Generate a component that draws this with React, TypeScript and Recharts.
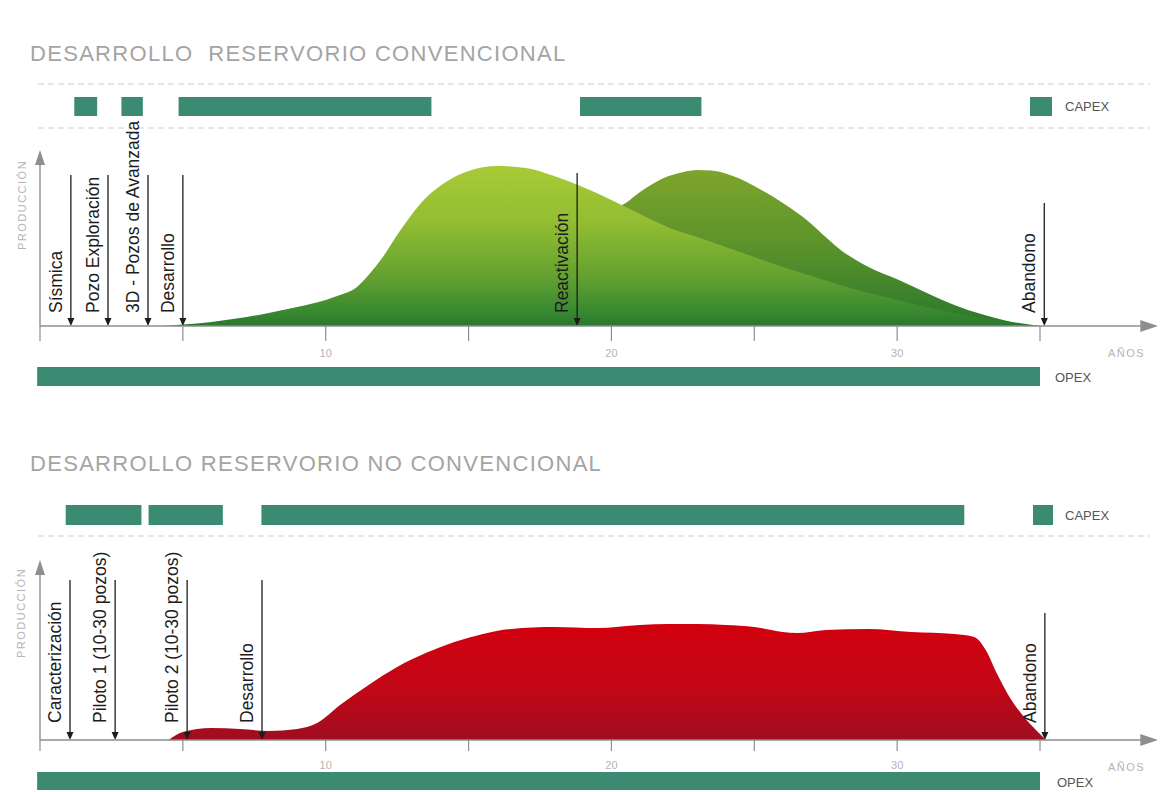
import { ComposedChart, Area, Line, XAxis, YAxis, ReferenceLine, ReferenceArea } from "recharts";

// years on the x axis, production as an index (0-100) on the y axis
const X_MIN = -1.4;
const X_MAX = 39;
const YEAR_TICKS = [0, 5, 10, 15, 20, 25, 30, 35];
const YEAR_LABELS = [10, 20, 30];

// --- reservorio convencional ---
const convCapex: [number, number][] = [
  [1.2, 2.0],
  [2.85, 3.6],
  [4.85, 13.7],
  [18.9, 23.15],
];
const convOpex: [number, number][] = [[-0.1, 35]];

const convPrimary = [
  { year: 4.3, v: 0 }, { year: 5, v: 0.8 }, { year: 6, v: 2.3 }, { year: 7, v: 4.5 },
  { year: 8, v: 7.4 }, { year: 9, v: 10.8 }, { year: 10, v: 14.8 }, { year: 10.5, v: 17.6 },
  { year: 11, v: 21 }, { year: 11.5, v: 29 }, { year: 12, v: 39.2 }, { year: 12.5, v: 51.7 },
  { year: 13, v: 63.1 }, { year: 13.5, v: 72.7 }, { year: 14, v: 79.5 }, { year: 14.5, v: 84.7 },
  { year: 15, v: 88.1 }, { year: 16, v: 90.9 }, { year: 17, v: 89.8 }, { year: 18, v: 85.2 },
  { year: 19, v: 79 }, { year: 20, v: 71.6 }, { year: 21, v: 63.6 }, { year: 22, v: 56 },
  { year: 23, v: 50.6 }, { year: 24, v: 44.9 }, { year: 25, v: 39.2 }, { year: 26, v: 33.5 },
  { year: 27, v: 28.4 }, { year: 28, v: 23.3 }, { year: 29, v: 18.8 }, { year: 30, v: 14.8 },
  { year: 31, v: 10.8 }, { year: 32, v: 7.4 }, { year: 33, v: 4.5 }, { year: 34, v: 2.3 },
  { year: 35, v: 0 },
];

const convReactivation = [
  { year: 20, v: 65.9 }, { year: 20.5, v: 69.9 }, { year: 21, v: 76.1 }, { year: 21.5, v: 81.3 },
  { year: 22, v: 85.2 }, { year: 22.5, v: 87.4 }, { year: 23, v: 88.6 }, { year: 23.5, v: 88.3 },
  { year: 24, v: 86.6 }, { year: 24.5, v: 83.6 }, { year: 25, v: 79.5 }, { year: 26, v: 69.9 },
  { year: 27, v: 58 }, { year: 27.5, v: 50.5 }, { year: 28, v: 43.5 }, { year: 28.5, v: 38 },
  { year: 29, v: 33.5 }, { year: 30, v: 26.5 }, { year: 31, v: 19 }, { year: 32, v: 12 },
  { year: 33, v: 6.5 }, { year: 34, v: 2.3 }, { year: 34.6, v: 0.5 }, { year: 35, v: 0 },
];

const convEvents = [
  { label: "Sísmica", year: 1.08, top: 85.8 },
  { label: "Pozo Exploración", year: 2.38, top: 85.8 },
  { label: "3D - Pozos de Avanzada", year: 3.78, top: 85.8 },
  { label: "Desarrollo", year: 5.0, top: 85.8 },
  { label: "Reactivación", year: 18.8, top: 86.9 },
  { label: "Abandono", year: 35.15, top: 69.9 },
];

// --- reservorio no convencional ---
const noConvCapex: [number, number][] = [
  [0.9, 3.55],
  [3.8, 6.4],
  [7.75, 32.35],
];
const noConvOpex: [number, number][] = [[-0.1, 35]];

const noConvProduction = [
  { year: 4.5, v: 0 }, { year: 5, v: 4.4 }, { year: 6, v: 6.7 }, { year: 7, v: 6.1 },
  { year: 8, v: 5 }, { year: 9, v: 6.1 }, { year: 9.7, v: 9.4 }, { year: 10.5, v: 19.4 },
  { year: 11.5, v: 30.6 }, { year: 12.5, v: 40.6 }, { year: 13.5, v: 48.3 }, { year: 14.5, v: 54.4 },
  { year: 15.5, v: 58.9 }, { year: 16.5, v: 61.7 }, { year: 18, v: 62.8 }, { year: 19.5, v: 62.2 },
  { year: 21, v: 63.9 }, { year: 22, v: 64.4 }, { year: 23, v: 64.4 }, { year: 24, v: 63.9 },
  { year: 25, v: 62.8 }, { year: 26, v: 60 }, { year: 26.5, v: 59.4 }, { year: 27.5, v: 61.1 },
  { year: 29, v: 61.7 }, { year: 30.5, v: 60 }, { year: 32, v: 58.9 }, { year: 32.7, v: 57.2 },
  { year: 33.1, v: 50 }, { year: 33.5, v: 36.7 }, { year: 34, v: 22.2 }, { year: 34.5, v: 11.7 },
  { year: 35, v: 3.3 }, { year: 35.2, v: 0 },
];

const noConvEvents = [
  { label: "Caracterización", year: 1.05, top: 88.9 },
  { label: "Piloto 1 (10-30 pozos)", year: 2.63, top: 88.9 },
  { label: "Piloto 2 (10-30 pozos)", year: 5.15, top: 88.9 },
  { label: "Desarrollo", year: 7.77, top: 88.9 },
  { label: "Abandono", year: 35.17, top: 70.6 },
];

const FONT = "'Liberation Sans', Arial, sans-serif";
const TEAL = "#3b8a72";
const AXIS = "#8e8e8e";
const INK = "#1c1c1c";
const W = 1160;
const LEFT = 40; // year 0
const RIGHT_PAD = W - LEFT - (X_MAX * 1000) / 35;

function BarRow({ segments, top, height }: { segments: [number, number][]; top: number; height: number }) {
  // segment ends as (invisible) points so the chart has a series and its scales
  const data = segments.flatMap(([start, end]) => [
    { x: start, y: 0.5 },
    { x: end, y: 0.5 },
  ]);
  return (
    <div style={{ position: "absolute", left: 0, top, width: W, height }}>
      <ComposedChart width={W} height={height} data={data} margin={{ top: 0, right: RIGHT_PAD, left: 0, bottom: 0 }}>
        <XAxis type="number" dataKey="x" domain={[X_MIN, X_MAX]} allowDataOverflow hide />
        <YAxis type="number" domain={[0, 1]} hide />
        <Line dataKey="y" stroke="none" dot={false} activeDot={false} isAnimationActive={false} />
        {segments.map(([s, e], i) => (
          <ReferenceArea key={i} x1={s} x2={e} y1={0} y2={1} fill={TEAL} fillOpacity={1} stroke="none" />
        ))}
      </ComposedChart>
    </div>
  );
}

function EventArrow(p: any) {
  const { x1, y1, y2, label, textGap } = p;
  const x = x1;
  const t = Math.min(y1, y2);
  const b = Math.max(y1, y2);
  const tx = x - 9;
  const ty = b - textGap;
  return (
    <g>
      <line x1={x} y1={t} x2={x} y2={b - 6} stroke={INK} strokeWidth={1.3} />
      <polygon points={`${x - 3.5},${b - 8} ${x + 3.5},${b - 8} ${x},${b}`} fill={INK} />
      <text x={tx} y={ty} transform={`rotate(-90 ${tx} ${ty})`} fontSize={17.5} fontFamily={FONT} fill={INK}>
        {label}
      </text>
    </g>
  );
}

function YArrow(p: any) {
  const { x1, y1, y2 } = p;
  const t = Math.min(y1, y2);
  const b = Math.max(y1, y2);
  return (
    <g>
      <line x1={x1} y1={b} x2={x1} y2={t + 10} stroke={AXIS} strokeWidth={1.4} />
      <polygon points={`${x1 - 5},${t + 15} ${x1 + 5},${t + 15} ${x1},${t}`} fill={AXIS} />
    </g>
  );
}

type Series = { data: { year: number; v: number }[]; fill: string };

function ProductionChart({
  id,
  top,
  plotHeight,
  series,
  events,
  tickSize,
  tickMargin,
  textGap,
  gradients,
}: {
  id: string;
  top: number;
  plotHeight: number;
  series: Series[];
  events: { label: string; year: number; top: number }[];
  tickSize: number;
  tickMargin: number;
  textGap: number;
  gradients: React.ReactNode;
}) {
  const marginTop = 30;
  const axisH = 40;
  const h = marginTop + plotHeight + axisH;
  return (
    <div style={{ position: "absolute", left: 0, top: top - marginTop, width: W, height: h }}>
      <ComposedChart width={W} height={h} margin={{ top: marginTop, right: RIGHT_PAD, left: LEFT, bottom: 0 }}>
        <defs>
          {gradients}
          <marker
            id={`${id}-xarrow`}
            markerUnits="userSpaceOnUse"
            markerWidth={18}
            markerHeight={12}
            viewBox="0 0 18 12"
            refX={14}
            refY={6}
            orient="auto"
          >
            <path d="M0,0 L18,6 L0,12 z" fill={AXIS} />
          </marker>
        </defs>
        <XAxis
          type="number"
          dataKey="year"
          domain={[0, X_MAX]}
          allowDataOverflow
          ticks={YEAR_TICKS}
          interval={0}
          height={axisH}
          tickSize={tickSize}
          tickMargin={tickMargin}
          tickLine={{ stroke: AXIS, strokeWidth: 1.2 }}
          axisLine={{ stroke: AXIS, strokeWidth: 1.4, markerEnd: `url(#${id}-xarrow)` }}
          tick={{ fill: "#b4b4b4", fontSize: 11, fontFamily: FONT }}
          tickFormatter={(v: number) => (YEAR_LABELS.includes(v) ? String(v) : "")}
        />
        <YAxis type="number" domain={[0, 100]} hide />
        {series.map((s, i) => (
          <Area
            key={i}
            data={s.data}
            dataKey="v"
            type="monotone"
            stroke="none"
            fill={s.fill}
            fillOpacity={1}
            dot={false}
            activeDot={false}
            isAnimationActive={false}
          />
        ))}
        <ReferenceLine segment={[{ x: 0, y: 0 }, { x: 0, y: 100 }]} shape={(p: any) => <YArrow {...p} />} />
        {events.map((ev) => (
          <ReferenceLine
            key={ev.label + ev.year}
            segment={[{ x: ev.year, y: ev.top }, { x: ev.year, y: 0 }]}
            shape={(p: any) => <EventArrow {...p} label={ev.label} textGap={textGap} />}
          />
        ))}
      </ComposedChart>
    </div>
  );
}

function Annotations() {
  const dash = { stroke: "#cfcfcf", strokeWidth: 1, strokeDasharray: "6 4" };
  const small = { fontFamily: FONT, fontSize: 13, fill: "#555" };
  const faint = { fontFamily: FONT, fontSize: 11, fill: "#b4b4b4", letterSpacing: 1.5 };
  const title = { fontFamily: FONT, fontSize: 22, fill: "#a4a4a4", letterSpacing: 1.3, style: { whiteSpace: "pre" as const } };
  return (
    <svg width={W} height={792} style={{ position: "absolute", left: 0, top: 0 }}>
      <text x={30} y={61} {...title}>
        {"DESARROLLO  RESERVORIO CONVENCIONAL"}
      </text>
      <text x={30} y={471} {...title}>
        {"DESARROLLO RESERVORIO NO CONVENCIONAL"}
      </text>
      <line x1={38} x2={1150} y1={84} y2={84} {...dash} />
      <line x1={38} x2={1150} y1={128} y2={128} {...dash} />
      <line x1={38} x2={1150} y1={536} y2={536} {...dash} />

      <rect x={1030} y={97} width={22} height={19} fill={TEAL} />
      <text x={1065} y={111} {...small}>CAPEX</text>
      <rect x={1033} y={505} width={20} height={20} fill={TEAL} />
      <text x={1065} y={520} {...small}>CAPEX</text>
      <text x={1055} y={382} {...small}>OPEX</text>
      <text x={1057} y={787} {...small}>OPEX</text>

      <text x={1108} y={357} {...faint}>AÑOS</text>
      <text x={1108} y={771} {...faint}>AÑOS</text>
      <text x={22} y={205} transform="rotate(-90 22 205)" textAnchor="middle" dominantBaseline="central" {...faint}>
        PRODUCCIÓN
      </text>
      <text x={21} y={613} transform="rotate(-90 21 613)" textAnchor="middle" dominantBaseline="central" {...faint}>
        PRODUCCIÓN
      </text>
    </svg>
  );
}

export default function App() {
  return (
    <div style={{ position: "absolute", left: 0, top: 0, width: W, height: 792, background: "#fff", fontFamily: FONT, overflow: "hidden" }}>
      <style>{`.recharts-surface{overflow:visible}`}</style>
      <Annotations />

      <BarRow segments={convCapex} top={97} height={19} />
      <ProductionChart
        id="conv"
        top={150}
        plotHeight={176}
        series={[
          { data: convReactivation, fill: "url(#gradReact)" },
          { data: convPrimary, fill: "url(#gradPrim)" },
        ]}
        events={convEvents}
        tickSize={15}
        tickMargin={8}
        textGap={13}
        gradients={
          <>
            <linearGradient id="gradPrim" x1="0" y1="0" x2="0" y2="1">
              <stop offset="0%" stopColor="#a8ca36" />
              <stop offset="35%" stopColor="#93bd33" />
              <stop offset="70%" stopColor="#62a030" />
              <stop offset="90%" stopColor="#3a8a30" />
              <stop offset="100%" stopColor="#2a782e" />
            </linearGradient>
            <linearGradient id="gradReact" x1="0" y1="0" x2="0" y2="1">
              <stop offset="0%" stopColor="#7ea52c" />
              <stop offset="50%" stopColor="#5a922a" />
              <stop offset="100%" stopColor="#2a782c" />
            </linearGradient>
          </>
        }
      />
      <BarRow segments={convOpex} top={367} height={19} />

      <BarRow segments={noConvCapex} top={505} height={20} />
      <ProductionChart
        id="noconv"
        top={560}
        plotHeight={180}
        series={[{ data: noConvProduction, fill: "url(#gradRed)" }]}
        events={noConvEvents}
        tickSize={11}
        tickMargin={10}
        textGap={17}
        gradients={
          <linearGradient id="gradRed" x1="0" y1="0" x2="0" y2="1">
            <stop offset="0%" stopColor="#d2000e" />
            <stop offset="55%" stopColor="#c20716" />
            <stop offset="100%" stopColor="#a00d20" />
          </linearGradient>
        }
      />
      <BarRow segments={noConvOpex} top={772} height={18} />
    </div>
  );
}
